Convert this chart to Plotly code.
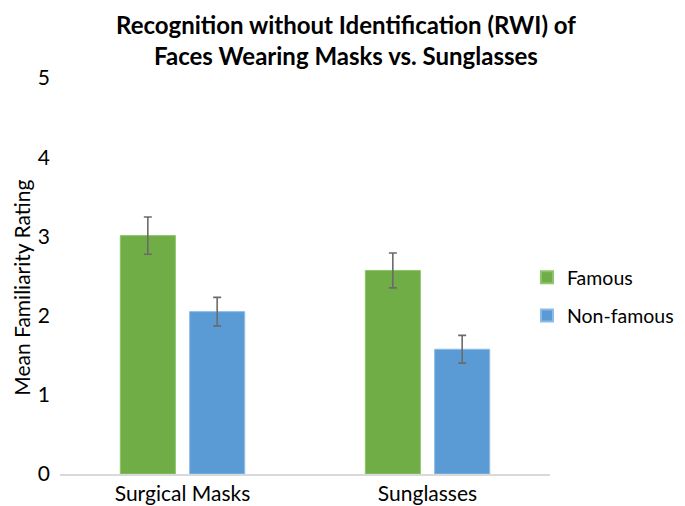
import plotly.graph_objects as go

# ── Data ──────────────────────────────────────────────────────────────────────
categories    = ["Surgical Masks", "Sunglasses"]
famous        = [3.01, 2.57]
famous_err    = [0.235, 0.22]
nonfamous     = [2.05, 1.575]
nonfamous_err = [0.18, 0.175]

FONT = "Lato, 'Open Sans', sans-serif"
ERR  = dict(type="data", thickness=1.6, width=4, color="#6b6b6b")

fig = go.Figure()
fig.add_trace(go.Bar(
    x=categories, y=famous, name="Famous", legendgroup="f",
    marker=dict(color="#70ad47", line=dict(color="#8cc46a", width=1)),
    error_y=dict(array=famous_err, **ERR),
))
fig.add_trace(go.Bar(
    x=categories, y=nonfamous, name="Non-famous", legendgroup="n",
    marker=dict(color="#5b9bd5", line=dict(color="#8bbce8", width=1)),
    error_y=dict(array=nonfamous_err, **ERR),
))

# title and y-axis title as paper annotations so they don't move the plot area
fig.add_annotation(
    text="<b>Recognition without Identification (RWI) of<br>Faces Wearing Masks vs. Sunglasses</b>",
    xref="paper", yref="paper", x=0.584, y=1.175,
    xanchor="center", yanchor="top", showarrow=False, borderpad=0,
    font=dict(size=24, family=FONT, color="#000000"),
)
fig.add_annotation(
    text="Mean Familiarity Rating", textangle=-90,
    xref="paper", yref="paper", x=-0.079, y=0.471,
    xanchor="center", yanchor="middle", showarrow=False,
    font=dict(size=21, family=FONT, color="#000000"),
)

fig.update_layout(
    width=677, height=498,
    paper_bgcolor="white", plot_bgcolor="white",
    font=dict(family=FONT, color="#000000", size=21),
    margin=dict(l=52, r=135, t=70, b=32, autoexpand=False),
    barmode="group", bargap=0.434, bargroupgap=0.206,
    xaxis=dict(
        showgrid=False, showline=True, linecolor="#d9d9d9", linewidth=1.5,
        ticks="", tickfont=dict(size=21), automargin=False,
    ),
    yaxis=dict(
        range=[0, 5], dtick=1, showgrid=False, zeroline=False, showline=False,
        ticks="", tickfont=dict(size=21), ticklabelstandoff=9, automargin=False,
    ),
    legend=dict(
        x=0.953, xanchor="left", y=0.448, yanchor="middle",
        font=dict(size=19.5), itemsizing="constant", tracegroupgap=10,
        bgcolor="rgba(0,0,0,0)",
    ),
)

fig.write_html("out.html")
